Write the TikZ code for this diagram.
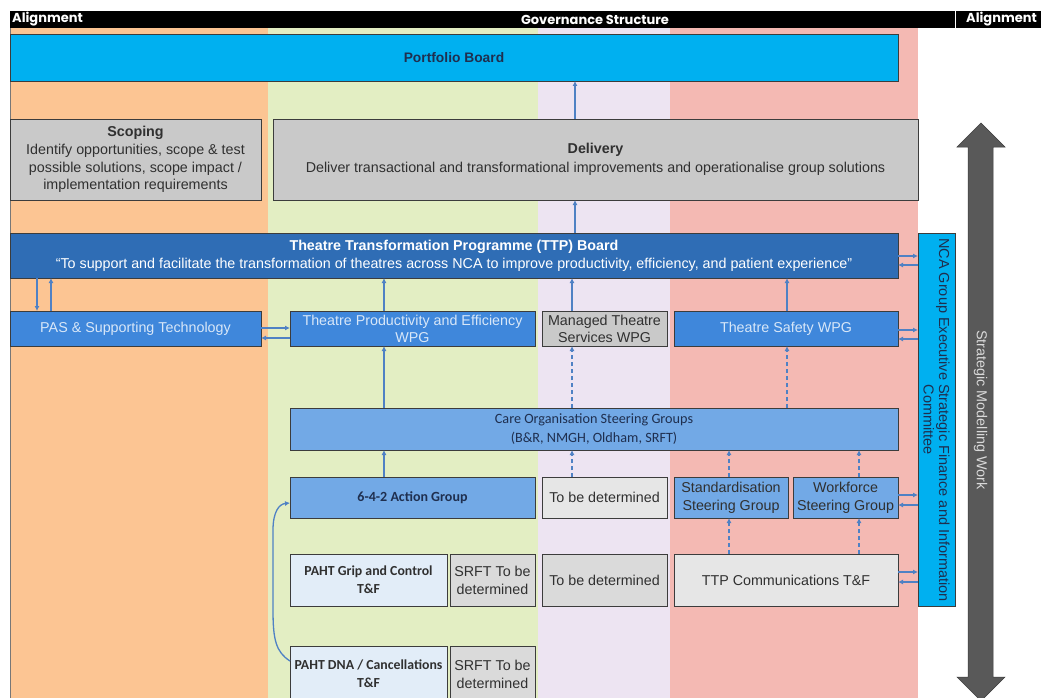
\documentclass[tikz,border=0pt]{standalone}
\usepackage{fontspec}
\setmainfont{Liberation Sans}
\newfontfamily\calfont{Carlito}
\newfontfamily\headfont{Poppins}
\usetikzlibrary{arrows.meta}

\definecolor{bandorange}{HTML}{FCC593}
\definecolor{bandgreen}{HTML}{E3EEC3}
\definecolor{bandlav}{HTML}{EDE4F2}
\definecolor{bandpink}{HTML}{F4B9B3}
\definecolor{cyanbox}{HTML}{00B0F0}
\definecolor{greybox}{HTML}{C9C9C9}
\definecolor{ttpblue}{HTML}{2F6DB5}
\definecolor{midblue}{HTML}{3F87DB}
\definecolor{lightblue}{HTML}{72A9E6}
\definecolor{paleblue}{HTML}{E2EDF8}
\definecolor{palegrey}{HTML}{E6E6E6}
\definecolor{tbdgrey}{HTML}{DADADA}
\definecolor{edge}{HTML}{3C3C3C}
\definecolor{arrowblue}{HTML}{4F81C4}
\definecolor{bigarrow}{HTML}{595959}
\definecolor{navytext}{HTML}{1F2F4F}
\definecolor{darktext}{HTML}{303030}
\definecolor{lighttext}{HTML}{D8E7F8}

\tikzset{
  box/.style={draw=edge, line width=0.8pt, inner sep=1pt, outer sep=0pt,
    align=center, anchor=north west, text=darktext,
    font=\fontsize{14.3}{17.5}\selectfont},
  calbox/.style={box, font=\calfont\fontsize{14}{18}\selectfont},
  hdr/.style={text=white, inner sep=0pt, font=\headfont\bfseries\fontsize{13}{14}\selectfont},
  arr/.style={draw=arrowblue, line width=1.3pt, -{Latex[length=5pt,width=5pt]}},
  darr/.style={arr, dash pattern=on 4pt off 3pt},
}

\begin{document}
\begin{tikzpicture}[x=1pt,y=-1pt]
\useasboundingbox (0,0) rectangle (1041,698);
\fill[white] (0,0) rectangle (1041,698);

% column bands
\fill[bandorange] (10,28) rectangle (268,698);
\fill[bandgreen]  (268,28) rectangle (538,698);
\fill[bandlav]    (538,28) rectangle (670,698);
\fill[bandpink]   (670,28) rectangle (918,698);
\draw[edge!70, line width=0.8pt] (10,28) -- (10,698);

% header bar
\fill[black] (10,11) rectangle (1041,28);
\draw[white, line width=1pt] (955,11) -- (955,28);
\node[hdr, anchor=west] (alignL) at (12,19.5) {Alignment};
\node[hdr] (gov) at (595,19.5) {Governance Structure};
\node[hdr, anchor=west] (alignR) at (966,19.5) {Alignment};

% top level
\node[box, fill=cyanbox, text=navytext, minimum width=888pt, minimum height=47pt,
      font=\bfseries\fontsize{13.8}{17}\selectfont] (portfolio) at (10,34) {Portfolio Board};
\node[box, fill=greybox, minimum width=251pt, minimum height=81pt,
      font=\fontsize{14.3}{17.8}\selectfont] (scoping) at (10,119)
  {\textbf{Scoping}\\Identify opportunities, scope \& test\\possible solutions, scope impact /\\implementation requirements};
\node[box, fill=greybox, minimum width=645pt, minimum height=81pt,
      font=\fontsize{14.3}{19}\selectfont] (delivery) at (273,119)
  {\textbf{Delivery}\\Deliver transactional and transformational improvements and operationalise group solutions};

% programme board
\node[box, fill=ttpblue, text=white, minimum width=888pt, minimum height=45pt,
      font=\fontsize{14.3}{18}\selectfont] (ttp) at (10,233)
  {\textbf{Theatre Transformation Programme (TTP) Board}\\``To support and facilitate the transformation of theatres across NCA to improve productivity, efficiency, and patient experience''};

% committee on the right
\node[box, fill=cyanbox, minimum width=37pt, minimum height=373pt] (nca) at (918,233) {};
\node[rotate=-90, align=center, text=navytext, inner sep=0pt,
      font=\fontsize{14.5}{15.5}\selectfont] (ncatext) at ([yshift=-0.5pt]nca.center)
  {NCA Group Executive Strategic Finance and Information\\Committee};

% working groups
\node[box, fill=midblue, text=lighttext, minimum width=251pt, minimum height=35pt] (pas) at (10,311) {PAS \& Supporting Technology};
\node[box, fill=midblue, text=lighttext, minimum width=245pt, minimum height=35pt,
      font=\fontsize{14.3}{17}\selectfont] (tpe) at (290,311) {Theatre Productivity and Efficiency\\WPG};
\node[box, fill=greybox, minimum width=125pt, minimum height=35pt,
      font=\fontsize{14.3}{17}\selectfont] (managed) at (542,311) {Managed Theatre\\Services WPG};
\node[box, fill=midblue, text=lighttext, minimum width=224pt, minimum height=35pt] (safety) at (674,311) {Theatre Safety WPG};

% steering groups
\node[calbox, fill=lightblue, text=navytext, minimum width=608pt, minimum height=42pt,
      font=\calfont\fontsize{14.2}{19}\selectfont] (care) at (290,408)
  {Care Organisation Steering Groups\\(B\&R, NMGH, Oldham, SRFT)};
\node[calbox, fill=lightblue, text=navytext, minimum width=245pt, minimum height=41pt,
      font=\calfont\bfseries\fontsize{14}{18}\selectfont] (action) at (290,477) {6-4-2 Action Group};
\node[box, fill=palegrey, minimum width=125pt, minimum height=41pt] (tbdA) at (542,477) {To be determined};
\node[box, fill=lightblue, minimum width=114pt, minimum height=41pt,
      font=\fontsize{14.3}{18}\selectfont] (std) at (674,477) {Standardisation\\Steering Group};
\node[box, fill=lightblue, minimum width=105pt, minimum height=41pt,
      font=\fontsize{14.3}{18}\selectfont] (wf) at (793,477) {Workforce\\Steering Group};

% task and finish groups
\node[calbox, fill=paleblue, minimum width=157pt, minimum height=52pt,
      font=\calfont\bfseries\fontsize{13.8}{18}\selectfont] (grip) at (290,554) {PAHT Grip and Control\\T\&F};
\node[box, fill=tbdgrey, minimum width=85pt, minimum height=52pt,
      font=\fontsize{14.3}{18}\selectfont] (srftA) at (450,554) {SRFT To be\\determined};
\node[box, fill=tbdgrey, minimum width=125pt, minimum height=52pt] (tbdB) at (542,554) {To be determined};
\node[box, fill=palegrey, minimum width=224pt, minimum height=52pt] (comm) at (674,554) {TTP Communications T\&F};
\node[calbox, fill=paleblue, minimum width=157pt, minimum height=56pt,
      font=\calfont\bfseries\fontsize{13.8}{18}\selectfont] (dna) at (290,646) {PAHT DNA / Cancellations\\T\&F};
\node[box, fill=tbdgrey, minimum width=85pt, minimum height=56pt,
      font=\fontsize{14.3}{18}\selectfont] (srftB) at (450,646) {SRFT To be\\determined};

% strategic modelling double arrow
\fill[bigarrow, draw=edge, line width=0.5pt] (981,123) -- (1005,147) -- (993,147) -- (993,677) -- (1005,677)
  -- (981,701) -- (957,677) -- (968,677) -- (968,147) -- (957,147) -- cycle;
\node[rotate=-90, text=white!85!black, inner sep=0pt, font=\fontsize{14.4}{15}\selectfont] (smw) at (980.5,410) {Strategic Modelling Work};

% connector positions
\coordinate (x37) at (37,0);
\coordinate (x51) at (51,0);
\coordinate (x384) at (384,0);
\coordinate (x572) at (572,0);
\coordinate (x575) at (575,0);
\coordinate (x787) at (787,0);
\coordinate (x729) at (729,0);
\coordinate (x859) at (859,0);
\coordinate (y256) at (0,256);
\coordinate (y265) at (0,265);
\coordinate (y328) at (0,328);
\coordinate (y338) at (0,338);
\coordinate (y330) at (0,330);
\coordinate (y339) at (0,339);
\coordinate (y495) at (0,495);
\coordinate (y505) at (0,505);
\coordinate (y572) at (0,572);
\coordinate (y582) at (0,582);
\coordinate (y503) at (0,503);
\coordinate (y661) at (0,661);

% upward reporting lines
\draw[arr] (ttp.north -| x575) -- (delivery.south -| x575);
\draw[arr] (delivery.north -| x575) -- (portfolio.south -| x575);
\draw[arr] (ttp.south -| x37) -- (pas.north -| x37);
\draw[arr] (pas.north -| x51) -- (ttp.south -| x51);
\draw[arr] (tpe.north -| x384) -- (ttp.south -| x384);
\draw[arr] (managed.north -| x572) -- (ttp.south -| x572);
\draw[arr] (safety.north -| x787) -- (ttp.south -| x787);
\draw[arr] (care.north -| x384) -- (tpe.south -| x384);
\draw[darr] (care.north -| x572) -- (managed.south -| x572);
\draw[darr] (care.north -| x787) -- (safety.south -| x787);
\draw[arr] (action.north -| x384) -- (care.south -| x384);
\draw[darr] (tbdA.north -| x572) -- (care.south -| x572);
\draw[darr] (std.north -| x729) -- (care.south -| x729);
\draw[darr] (wf.north -| x859) -- (care.south -| x859);
\draw[darr] (comm.north -| x729) -- (std.south -| x729);
\draw[darr] (comm.north -| x859) -- (wf.south -| x859);

% two-way links
\draw[arr] (pas.east |- y328) -- (tpe.west |- y328);
\draw[arr] (tpe.west |- y338) -- (pas.east |- y338);
\draw[arr] (ttp.east |- y256) -- (nca.west |- y256);
\draw[arr] (nca.west |- y265) -- (ttp.east |- y265);
\draw[arr] (safety.east |- y330) -- (nca.west |- y330);
\draw[arr] (nca.west |- y339) -- (safety.east |- y339);
\draw[arr] (wf.east |- y495) -- (nca.west |- y495);
\draw[arr] (nca.west |- y505) -- (wf.east |- y505);
\draw[arr] (comm.east |- y572) -- (nca.west |- y572);
\draw[arr] (nca.west |- y582) -- (comm.east |- y582);

% curved link into the action group
\draw[arr] (dna.west |- y661) .. controls (276,652) and (273,640) .. (273,610)
  -- (273,530) .. controls (273,512) and (279,504) .. (action.west |- y503);
\end{tikzpicture}
\end{document}
